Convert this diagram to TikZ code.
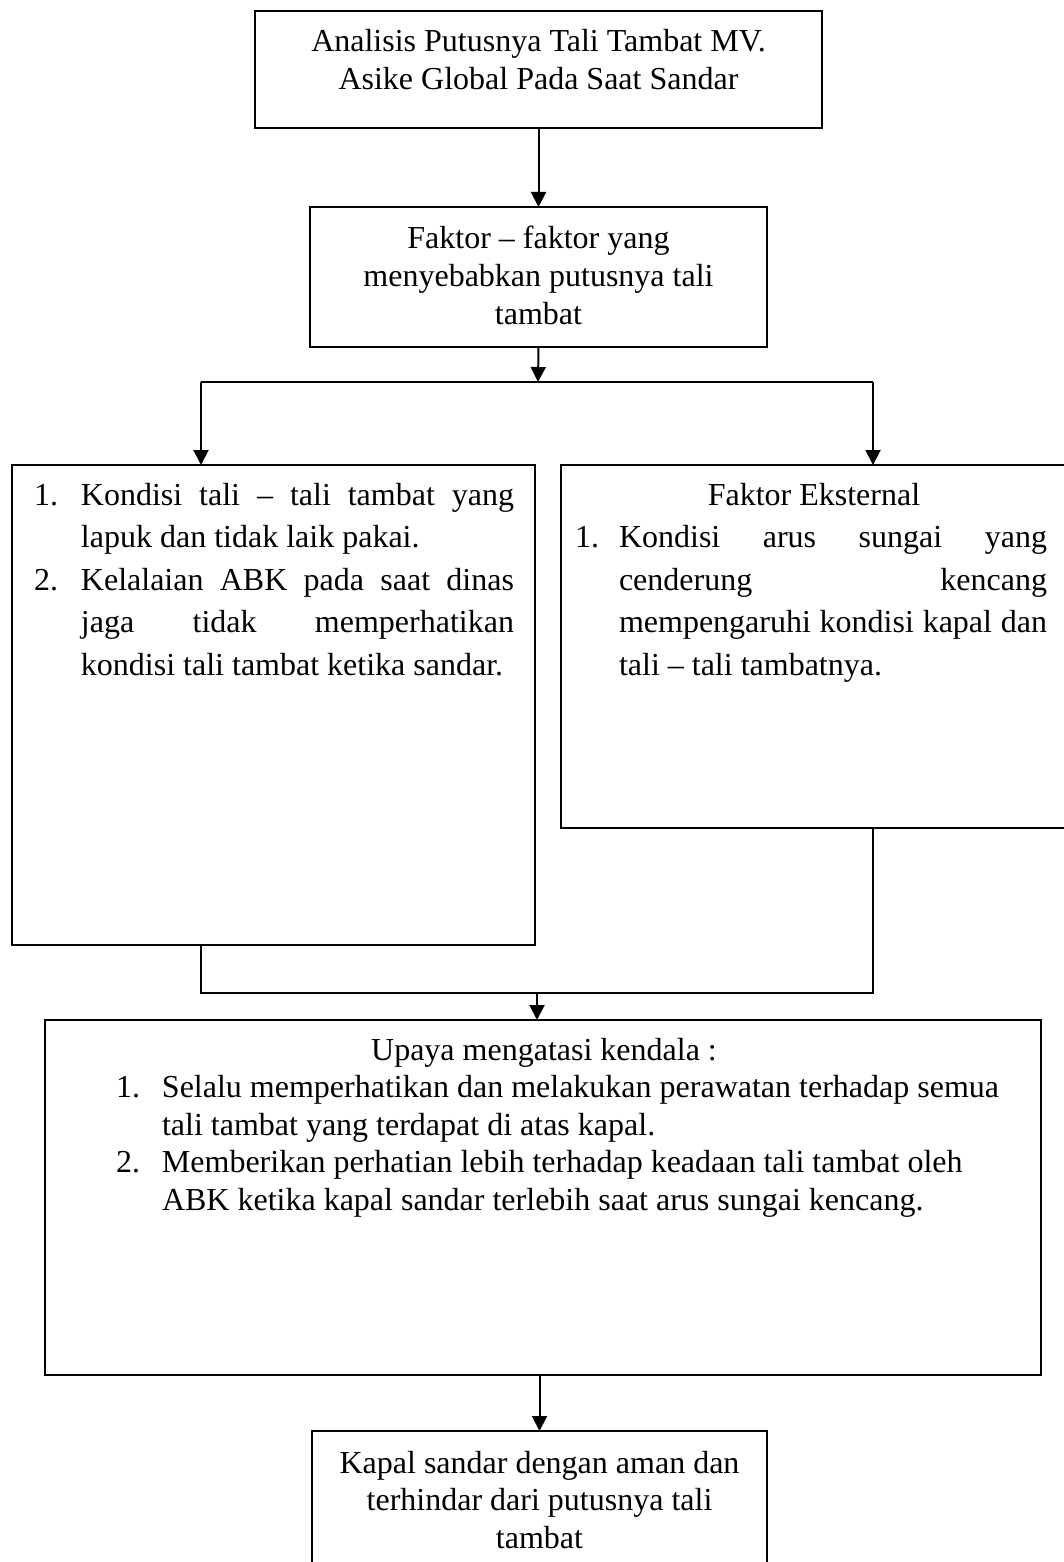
\documentclass[tikz,border=0pt]{standalone}
\usepackage{fontspec}
\setmainfont{Liberation Serif}
\usetikzlibrary{arrows.meta}
\newcommand{\jline}[2]{\makebox[#1][s]{#2}}
\begin{document}
\begin{tikzpicture}[x=1pt,y=-1pt,
  box/.style={draw, line width=2pt, inner sep=0pt, outer sep=0pt},
  ln/.style={line width=2pt},
  arr/.style={line width=2pt, -{Triangle[width=15pt,length=15pt]}},
  txt/.style={inner sep=0pt, outer sep=0pt, anchor=base, font=\fontsize{32}{37.5}\selectfont},
  lst/.style={inner sep=0pt, outer sep=0pt, anchor=base west, font=\fontsize{32}{42.5}\selectfont},
  lsts/.style={inner sep=0pt, outer sep=0pt, anchor=base west, font=\fontsize{32}{37.5}\selectfont}]
\path[use as bounding box] (0,0) rectangle (1064,1562);
\clip (0,0) rectangle (1064,1562);

% boxes
\node[box, minimum width=567pt, minimum height=117pt] (b1) at (538.5,69.5) {};
\node[box, minimum width=457pt, minimum height=140pt] (b2) at (538.5,277) {};
\node[box, minimum width=523pt, minimum height=480pt] (b3) at (273.5,705) {};
\node[box, minimum width=529pt, minimum height=363pt] (b4) at (825.5,646.5) {};
\node[box, minimum width=996.5pt, minimum height=355pt] (b5) at (542.75,1197.5) {};
\node[box, minimum width=455pt, minimum height=140pt] (b6) at (539.5,1501) {};

% texts
\node[txt] (t1) at (538.5,52) {\parbox[t]{560pt}{\centering
  Analisis Putusnya Tali Tambat MV.\\ Asike Global Pada Saat Sandar}};
\node[txt] (t2) at (538.5,249) {\parbox[t]{450pt}{\centering
  Faktor – faktor yang\\ menyebabkan putusnya tali\\ tambat}};
\node[lst] (t3) at (34,505) {\parbox[t]{490pt}{%
  \makebox[47pt][l]{1.}\jline{433pt}{Kondisi tali – tali tambat yang}\\
  \hspace*{47pt}lapuk dan tidak laik pakai.\\
  \makebox[47pt][l]{2.}\jline{433pt}{Kelalaian ABK pada saat dinas}\\
  \hspace*{47pt}\jline{433pt}{jaga tidak memperhatikan}\\
  \hspace*{47pt}kondisi tali tambat ketika sandar.}};
\node[lst] (t4) at (575,505) {\parbox[t]{490pt}{%
  \makebox[478pt]{Faktor Eksternal}\\
  \makebox[44pt][l]{1.}\jline{428pt}{Kondisi arus sungai yang}\\
  \hspace*{44pt}\jline{428pt}{cenderung kencang}\\
  \hspace*{44pt}\jline{428pt}{mempengaruhi kondisi kapal dan}\\
  \hspace*{44pt}tali – tali tambatnya.}};
\node[lsts] (t5) at (116,1060) {\parbox[t]{920pt}{%
  \makebox[856pt]{Upaya mengatasi kendala :}\\
  \makebox[46pt][l]{1.}Selalu memperhatikan dan melakukan perawatan terhadap semua\\
  \hspace*{46pt}tali tambat yang terdapat di atas kapal.\\
  \makebox[46pt][l]{2.}Memberikan perhatian lebih terhadap keadaan tali tambat oleh\\
  \hspace*{46pt}ABK ketika kapal sandar terlebih saat arus sungai kencang.}};
\node[txt] (t6) at (539.5,1473) {\parbox[t]{450pt}{\centering
  Kapal sandar dengan aman dan\\ terhindar dari putusnya tali\\ tambat}};

% connectors
\coordinate (j0) at (538,382);
\coordinate (jl) at (201,382);
\coordinate (jr) at (873,382);
\coordinate (kl) at (201,993);
\coordinate (kr) at (873,993);
\coordinate (km) at (537,993);
\draw[arr] (b1.south) -- (b2.north);
\draw[arr] (b2.south) -- (j0);
\draw[ln] (jl) -- (jr);
\draw[arr] (jl) -- (jl |- b3.north);
\draw[arr] (jr) -- (jr |- b4.north);
\draw[ln] (kl |- b3.south) -- (kl) -- (kr) -- (kr |- b4.south);
\draw[arr] (km) -- (km |- b5.north);
\draw[arr] (b6.north |- b5.south) -- (b6.north);
\end{tikzpicture}
\end{document}
